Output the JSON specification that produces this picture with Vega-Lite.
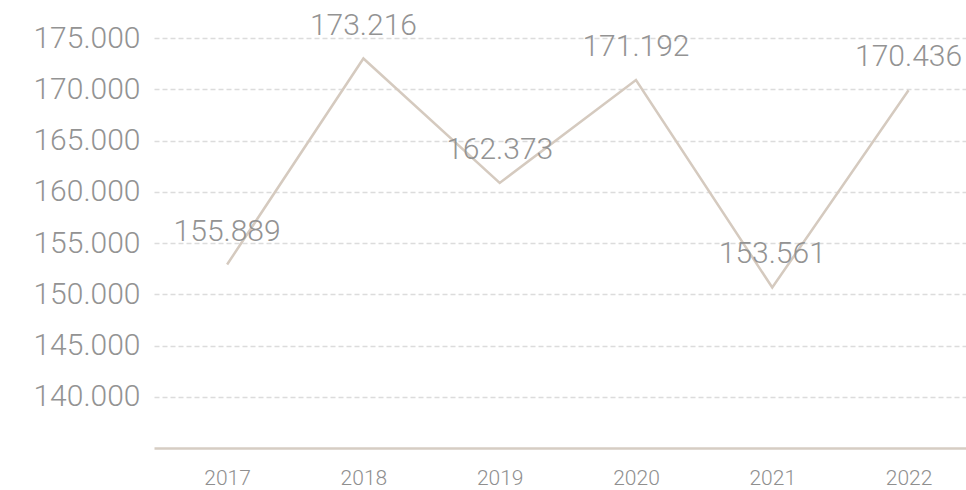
{
  "$schema": "https://vega.github.io/schema/vega-lite/v6.json",
  "autosize": {"type": "none"},
  "padding": {"left": 154, "top": 38, "right": 0, "bottom": 42},
  "width": 812,
  "height": 410,
  "background": "white",
  "config": {
    "locale": {
      "number": {"decimal": ",", "thousands": ".", "grouping": [3], "currency": ["", " €"]}
    },
    "view": {"stroke": null},
    "font": "Roboto"
  },
  "data": {
    "values": [
      {"year": "2017", "value": 152900, "label": 155889},
      {"year": "2018", "value": 173000, "label": 173216},
      {"year": "2019", "value": 160860, "label": 162373},
      {"year": "2020", "value": 170900, "label": 171192},
      {"year": "2021", "value": 150660, "label": 153561},
      {"year": "2022", "value": 169900, "label": 170436}
    ]
  },
  "encoding": {
    "x": {
      "field": "year",
      "type": "ordinal",
      "scale": {"type": "point", "padding": 0.479, "align": 0.56},
      "axis": {
        "title": null,
        "labelAngle": 0,
        "ticks": false,
        "grid": false,
        "domainColor": "#d6cdc3",
        "domainWidth": 2.5,
        "labelFontSize": 21,
        "labelFontWeight": 300,
        "labelColor": "#8f8f8f",
        "labelPadding": 19,
        "labelFont": "Roboto"
      }
    },
    "y": {
      "field": "value",
      "type": "quantitative",
      "scale": {"domain": [135000, 175000], "nice": false, "zero": false},
      "axis": {
        "title": null,
        "values": [140000, 145000, 150000, 155000, 160000, 165000, 170000, 175000],
        "format": ",.0f",
        "domain": false,
        "ticks": false,
        "gridColor": "#dcdcdc",
        "gridDash": [5, 3],
        "gridWidth": 1.6,
        "labelFontSize": 30,
        "labelFontWeight": 300,
        "labelColor": "#939393",
        "labelPadding": 14,
        "labelFont": "Roboto"
      }
    }
  },
  "layer": [
    {
      "mark": {"type": "line", "color": "#d5cabf", "strokeWidth": 2.5}
    },
    {
      "mark": {"type": "text", "dy": -33, "fontSize": 30, "fontWeight": 300, "color": "#939393", "font": "Roboto", "align": "center", "baseline": "middle"},
      "encoding": {
        "text": {"field": "label", "type": "quantitative", "format": ",.0f"}
      }
    }
  ]
}
